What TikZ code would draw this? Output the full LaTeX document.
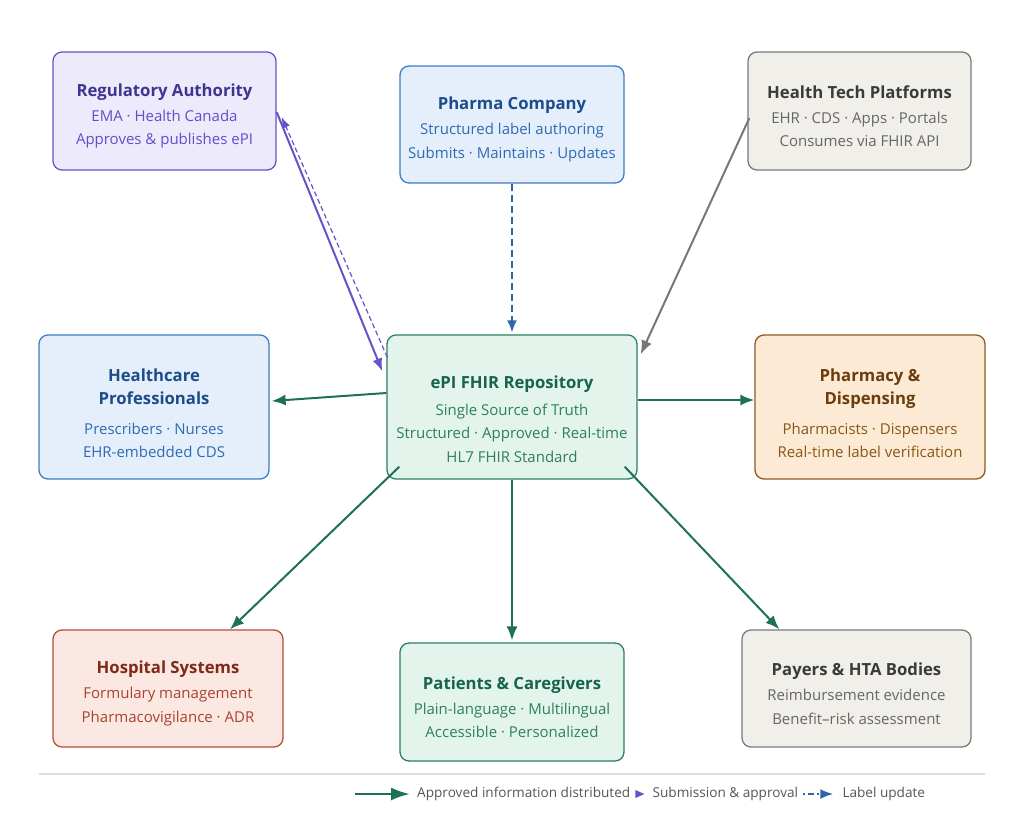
\documentclass[tikz,border=0pt]{standalone}
\usepackage{fontspec}
\setmainfont{Open Sans}
\usetikzlibrary{arrows.meta,calc}
\definecolor{regfill}{HTML}{EDEAFC}\definecolor{regdraw}{HTML}{6354C9}\definecolor{regtitle}{HTML}{3E3590}\definecolor{regbody}{HTML}{5E50C8}
\definecolor{bluefill}{HTML}{E5EFFB}\definecolor{bluedraw}{HTML}{3C7DC4}\definecolor{bluetitle}{HTML}{1C4C8A}\definecolor{bluebody}{HTML}{2E6BB3}
\definecolor{grayfill}{HTML}{F1EFEA}\definecolor{graydraw}{HTML}{7A7A7A}\definecolor{graytitle}{HTML}{3A3A3A}\definecolor{graybody}{HTML}{666666}
\definecolor{greenfill}{HTML}{E2F4EC}\definecolor{greendraw}{HTML}{2A8062}\definecolor{greentitle}{HTML}{17644A}\definecolor{greenbody}{HTML}{2E8060}
\definecolor{orangefill}{HTML}{FCEAD4}\definecolor{orangedraw}{HTML}{8E5B1F}\definecolor{orangetitle}{HTML}{6A3D0E}\definecolor{orangebody}{HTML}{8A5718}
\definecolor{redfill}{HTML}{FBE8E3}\definecolor{reddraw}{HTML}{B24F3A}\definecolor{redtitle}{HTML}{7E2A17}\definecolor{redbody}{HTML}{A8432D}
\definecolor{arrgreen}{HTML}{1E7058}\definecolor{arrgray}{HTML}{777777}\definecolor{legtext}{HTML}{555555}\definecolor{pharmarr}{HTML}{2C65AC}
\newcommand{\ttl}[1]{{\bfseries\fontsize{16.7}{23}\selectfont #1}}
\tikzset{
  box/.style={draw, rounded corners=9pt, line width=1.3pt, inner sep=0pt},
  txt/.style={align=center, inner sep=0pt, font=\fontsize{15}{23.5}\selectfont},
  flow/.style={draw=arrgreen, line width=2pt, -{Latex[length=14pt,width=11pt]}},
  leg/.style={anchor=west, inner sep=0pt, text=legtext, font=\fontsize{13.6}{15}\selectfont},
}
\begin{document}
\begin{tikzpicture}[x=1pt,y=-1pt]
\useasboundingbox (0,0) rectangle (1024,816);
% boxes
\node[box, fill=regfill, draw=regdraw, minimum width=223pt, minimum height=118pt] (reg) at (164.5,111) {};
\node[box, fill=bluefill, draw=bluedraw, minimum width=224pt, minimum height=117pt] (pharma) at (512,124.5) {};
\node[box, fill=grayfill, draw=graydraw, minimum width=223pt, minimum height=118pt] (tech) at (859.5,111) {};
\node[box, fill=bluefill, draw=bluedraw, minimum width=230pt, minimum height=144pt] (hcp) at (154,407) {};
\node[box, fill=greenfill, draw=greendraw, minimum width=250pt, minimum height=144pt] (epi) at (512,407) {};
\node[box, fill=orangefill, draw=orangedraw, minimum width=230pt, minimum height=144pt] (pharm) at (870,407) {};
\node[box, fill=redfill, draw=reddraw, minimum width=230pt, minimum height=117pt] (hosp) at (168,688.5) {};
\node[box, fill=greenfill, draw=greendraw, minimum width=224pt, minimum height=118pt] (pat) at (512,702) {};
\node[box, fill=grayfill, draw=graydraw, minimum width=229pt, minimum height=117pt] (pay) at (856.5,688.5) {};
% texts
\node[txt, text=regbody] (regt) at ($(reg)+(0,5)$) {{\color{regtitle}\ttl{Regulatory Authority}}\\[1.5pt]EMA · Health Canada\\Approves \& publishes ePI};
\node[txt, text=bluebody] (pharmat) at ($(pharma)+(0,5)$) {{\color{bluetitle}\ttl{Pharma Company}}\\[1.5pt]Structured label authoring\\Submits · Maintains · Updates};
\node[txt, text=graybody] (techt) at ($(tech)+(0,5)$) {{\color{graytitle}\ttl{Health Tech Platforms}}\\[1.5pt]EHR · CDS · Apps · Portals\\Consumes via FHIR API};
\node[txt, text=bluebody] (hcpt) at ($(hcp)+(0,6)$) {{\color{bluetitle}\ttl{Healthcare}}\\{\color{bluetitle}\ttl{Professionals}}\\[6pt]Prescribers · Nurses\\EHR-embedded CDS};
\node[txt, text=greenbody] (epit) at ($(epi)+(0,12)$) {{\color{greentitle}\ttl{ePI FHIR Repository}}\\[3pt]Single Source of Truth\\Structured · Approved · Real-time\\HL7 FHIR Standard};
\node[txt, text=orangebody] (pharmt) at ($(pharm)+(0,6)$) {{\color{orangetitle}\ttl{Pharmacy \&}}\\{\color{orangetitle}\ttl{Dispensing}}\\[6pt]Pharmacists · Dispensers\\Real-time label verification};
\node[txt, text=redbody] (hospt) at ($(hosp)+(0,5)$) {{\color{redtitle}\ttl{Hospital Systems}}\\[1.5pt]Formulary management\\Pharmacovigilance · ADR};
\node[txt, text=greenbody] (patt) at ($(pat)+(0,5)$) {{\color{greentitle}\ttl{Patients \& Caregivers}}\\[1.5pt]Plain-language · Multilingual\\Accessible · Personalized};
\node[txt, text=graybody] (payt) at ($(pay)+(0,5)$) {{\color{graytitle}\ttl{Payers \& HTA Bodies}}\\[1.5pt]Reimbursement evidence\\Benefit–risk assessment};
% connectors
\draw[regdraw, line width=2pt, -{Latex[length=13pt,width=10pt]}] ($(reg.east)+(0,1)$) -- ($(epi.north west)+(-4,37)$);
\draw[regdraw, line width=1.2pt, dash pattern=on 5pt off 3pt, -{Latex[length=11pt,width=8pt]}] ($(epi.north west)+(1,23)$) -- ($(reg.east)+(5,6)$);
\draw[pharmarr, line width=2pt, dash pattern=on 7pt off 4pt, -{Latex[length=12pt,width=10pt]}] (pharma.south) -- ($(epi.north)+(0,-2)$);
\draw[arrgray, line width=2pt, -{Latex[length=14pt,width=11pt]}] ($(tech.west)+(2,7)$) -- ($(epi.north east)+(3,20)$);
\draw[flow] ($(epi.west)+(0,-14)$) -- ($(hcp.east)+(2,-6)$);
\draw[flow] ($(epi.east)+(0,-7)$) -- ($(pharm.west)+(0,-7)$);
\draw[flow] ($(epi.south west)+(13,-13)$) -- ($(hosp.north)+(62,0)$);
\draw[flow] (epi.south) -- ($(pat.north)+(0,-2)$);
\draw[flow] ($(epi.south east)+(-13,-13)$) -- ($(pay.north west)+(38,0)$);
% separator & legend
\coordinate (s1) at (39,774); \coordinate (s2) at (985,774);
\draw[draw=black!13, line width=2pt] (s1) -- (s2);
\coordinate (la) at (355,794); \coordinate (lb) at (410,794);
\draw[arrgreen, line width=2.5pt, -{Latex[length=19pt,width=13pt]}] (la) -- (lb);
\node[leg] (l1) at (417,794) {Approved information distributed};
\fill[regdraw] ($(l1.east)+(5,-4)$) -- ++(9,4) -- ++(-9,4) -- cycle;
\node[leg] (l2) at ($(l1.east)+(22,0)$) {Submission \& approval};
\coordinate (lc) at ($(l2.east)+(5,0)$); \coordinate (ld) at ($(l2.east)+(35,0)$);
\draw[pharmarr, line width=2pt, dash pattern=on 2pt off 3pt on 6pt off 3pt, -{Latex[length=13pt,width=10pt]}] (lc) -- (ld);
\node[leg] (l3) at ($(ld)+(9,0)$) {Label update};
\end{tikzpicture}
\end{document}
